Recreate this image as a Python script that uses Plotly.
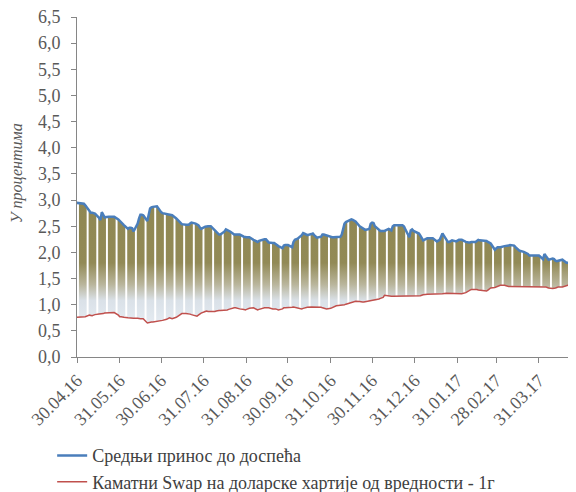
import pandas as pd
import plotly.graph_objects as go

# ---------------- data ----------------
start_date = "2016-04-29"
end_date = "2017-04-28"
dates = pd.bdate_range(start_date, end_date)  # business days

# Средњи принос до доспећа (%), one row per week (Mon..Fri)
blue = [2.95,
    2.94, 2.95, 2.94, 2.93, 2.90,
    2.78, 2.76, 2.76, 2.75, 2.74,
    2.66, 2.62, 2.77, 2.70, 2.67,
    2.68, 2.68, 2.68, 2.67, 2.68,
    2.63, 2.60, 2.57, 2.55, 2.52,
    2.45, 2.47, 2.47, 2.46, 2.40,
    2.55, 2.65, 2.72, 2.72, 2.71,
    2.60, 2.70, 2.84, 2.86, 2.87,
    2.88, 2.84, 2.79, 2.77, 2.75,
    2.73, 2.72, 2.71, 2.71, 2.71,
    2.65, 2.62, 2.58, 2.56, 2.54,
    2.53, 2.53, 2.53, 2.55, 2.57,
    2.55, 2.54, 2.52, 2.48, 2.45,
    2.49, 2.50, 2.50, 2.50, 2.50,
    2.42, 2.39, 2.36, 2.34, 2.34,
    2.40, 2.44, 2.43, 2.42, 2.40,
    2.34, 2.34, 2.34, 2.34, 2.34,
    2.30, 2.29, 2.29, 2.29, 2.29,
    2.24, 2.23, 2.21, 2.20, 2.22,
    2.25, 2.25, 2.25, 2.22, 2.19,
    2.18, 2.18, 2.16, 2.14, 2.12,
    2.08, 2.13, 2.14, 2.14, 2.14,
    2.10, 2.20, 2.24, 2.25, 2.26,
    2.33, 2.37, 2.36, 2.34, 2.33,
    2.35, 2.36, 2.33, 2.30, 2.28,
    2.30, 2.34, 2.34, 2.33, 2.32,
    2.30, 2.29, 2.29, 2.29, 2.29,
    2.30, 2.34, 2.45, 2.55, 2.58,
    2.63, 2.63, 2.62, 2.61, 2.59,
    2.50, 2.48, 2.46, 2.45, 2.43,
    2.45, 2.55, 2.57, 2.56, 2.50,
    2.43, 2.41, 2.41, 2.41, 2.41,
    2.45, 2.44, 2.42, 2.50, 2.52,
    2.52, 2.52, 2.52, 2.52, 2.50,
    2.36, 2.29, 2.42, 2.44, 2.41,
    2.38, 2.36, 2.32, 2.27, 2.23,
    2.27, 2.27, 2.27, 2.27, 2.27,
    2.21, 2.22, 2.24, 2.30, 2.36,
    2.24, 2.20, 2.20, 2.22, 2.23,
    2.21, 2.23, 2.24, 2.24, 2.24,
    2.20, 2.19, 2.19, 2.19, 2.20,
    2.20, 2.23, 2.24, 2.23, 2.23,
    2.23, 2.22, 2.20, 2.19, 2.17,
    2.05, 2.08, 2.10, 2.10, 2.10,
    2.12, 2.12, 2.12, 2.13, 2.14,
    2.13, 2.10, 2.08, 2.05, 2.03,
    2.01, 2.00, 1.99, 1.97, 1.94,
    1.94, 1.94, 1.94, 1.94, 1.94,
    1.87, 1.97, 1.93, 1.88, 1.86,
    1.88, 1.87, 1.84, 1.83, 1.84,
    1.86, 1.84, 1.82, 1.80, 1.80,
    1.81, 1.81, 1.81, 1.80, 1.80,
]

# Каматни Swap на доларске хартије од вредности - 1г (%)
red = [0.76,
    0.76, 0.77, 0.77, 0.77, 0.77,
    0.80, 0.79, 0.79, 0.80, 0.81,
    0.82, 0.82, 0.82, 0.83, 0.84,
    0.85, 0.85, 0.85, 0.85, 0.85,
    0.80, 0.77, 0.77, 0.77, 0.76,
    0.75, 0.745, 0.745, 0.745, 0.74,
    0.74, 0.73, 0.73, 0.73, 0.73,
    0.65, 0.66, 0.67, 0.67, 0.67,
    0.68, 0.69, 0.70, 0.70, 0.70,
    0.72, 0.74, 0.75, 0.74, 0.73,
    0.76, 0.78, 0.80, 0.82, 0.83,
    0.83, 0.83, 0.83, 0.82, 0.81,
    0.79, 0.78, 0.80, 0.82, 0.84,
    0.87, 0.88, 0.87, 0.87, 0.86,
    0.87, 0.88, 0.89, 0.89, 0.89,
    0.89, 0.89, 0.90, 0.91, 0.92,
    0.94, 0.94, 0.93, 0.93, 0.92,
    0.91, 0.90, 0.91, 0.92, 0.93,
    0.94, 0.93, 0.92, 0.90, 0.91,
    0.94, 0.94, 0.94, 0.94, 0.94,
    0.92, 0.925, 0.92, 0.91, 0.90,
    0.92, 0.94, 0.94, 0.94, 0.94,
    0.95, 0.955, 0.95, 0.94, 0.93,
    0.92, 0.93, 0.94, 0.94, 0.95,
    0.955, 0.955, 0.955, 0.955, 0.955,
    0.95, 0.94, 0.93, 0.93, 0.92,
    0.93, 0.94, 0.95, 0.97, 0.98,
    0.99, 0.99, 1.00, 1.00, 1.01,
    1.03, 1.04, 1.05, 1.06, 1.065,
    1.06, 1.05, 1.05, 1.05, 1.055,
    1.065, 1.07, 1.08, 1.085, 1.085,
    1.11, 1.12, 1.13, 1.14, 1.18,
    1.16, 1.16, 1.16, 1.16, 1.16,
    1.16, 1.16, 1.16, 1.16, 1.16,
    1.16, 1.16, 1.16, 1.16, 1.16,
    1.16, 1.16, 1.17, 1.18, 1.19,
    1.20, 1.20, 1.21, 1.21, 1.21,
    1.21, 1.21, 1.21, 1.21, 1.21,
    1.22, 1.22, 1.22, 1.22, 1.22,
    1.21, 1.21, 1.21, 1.21, 1.21,
    1.23, 1.25, 1.275, 1.28, 1.29,
    1.30, 1.29, 1.28, 1.275, 1.27,
    1.26, 1.26, 1.28, 1.30, 1.32,
    1.33, 1.34, 1.35, 1.36, 1.37,
    1.37, 1.36, 1.35, 1.35, 1.35,
    1.35, 1.35, 1.35, 1.34, 1.34,
    1.34, 1.34, 1.35, 1.35, 1.35,
    1.35, 1.34, 1.34, 1.34, 1.34,
    1.35, 1.35, 1.34, 1.33, 1.32,
    1.31, 1.31, 1.32, 1.33, 1.34,
    1.34, 1.35, 1.35, 1.36, 1.37,
    1.38, 1.38, 1.37, 1.37, 1.37,
]

tick_dates = ["2016-04-30", "2016-05-31", "2016-06-30", "2016-07-31", "2016-08-31",
              "2016-09-30", "2016-10-31", "2016-11-30", "2016-12-31", "2017-01-31",
              "2017-02-28", "2017-03-31"]
tick_labels = ["30.04.16", "31.05.16", "30.06.16", "31.07.16", "31.08.16", "30.09.16",
               "31.10.16", "30.11.16", "31.12.16", "31.01.17", "28.02.17", "31.03.17"]

name_blue = "Средњи принос до доспећа"
name_red = "Каматни Swap на доларске хартије од вредности - 1г"
y_title = "У процентима"

# ---------------- build weekly band polygons ----------------
segments = []
seg = [0]
for i in range(1, len(dates)):
    if (dates[i] - dates[i - 1]).days > 1:
        segments.append(seg)
        seg = [i]
    else:
        seg.append(i)
segments.append(seg)

lead = pd.Timedelta(hours=14)
trail = pd.Timedelta(hours=24)
bx, by = [], []
for s in segments:
    d = [dates[i] for i in s]
    left, right = d[0] - lead, d[-1] + trail
    bx += [left] + d + [right, right] + d[::-1] + [left, None]
    by += ([blue[s[0]]] + [blue[i] for i in s] + [blue[s[-1]], red[s[-1]]]
           + [red[i] for i in s[::-1]] + [red[s[0]], None])

FONT = "'Liberation Serif', 'Times New Roman', 'DejaVu Serif', serif"
TXT = "#595959"

fig = go.Figure()
fig.add_trace(go.Scatter(
    x=bx, y=by, mode="none", fill="toself", showlegend=False, hoverinfo="skip",
    fillgradient=dict(type="vertical", start=0.6, stop=3.0,
                      colorscale=[[0, "#e6ecf2"], [0.2, "#dae1e8"], [0.33, "#b9b59b"],
                                  [0.5, "#928a56"], [1, "#8f8753"]]),
))
fig.add_trace(go.Scatter(x=dates, y=blue, mode="lines", name=name_blue,
                         line=dict(color="#4a7ebb", width=2.5)))
fig.add_trace(go.Scatter(x=dates, y=red, mode="lines", name=name_red,
                         line=dict(color="#c0504d", width=1.5)))

axis_col = "#868686"
fig.update_layout(
    width=576, height=492,
    margin=dict(l=69, r=0, t=9, b=143, autoexpand=False),
    plot_bgcolor="white", paper_bgcolor="white",
    separators=",.",
    font=dict(family=FONT, size=18, color=TXT),
    showlegend=True,
    legend=dict(x=-0.049, xanchor="left", y=-0.236, yanchor="top",
                font=dict(family=FONT, size=18, color="#404040"),
                bgcolor="rgba(0,0,0,0)", tracegroupgap=0),
    xaxis=dict(type="date", range=["2016-04-30", "2017-05-02 16:00"],
               tickmode="array", tickvals=tick_dates, ticktext=tick_labels,
               tickangle=-45, showline=True, linecolor=axis_col, linewidth=1,
               ticks="outside", ticklen=5, tickcolor=axis_col, showgrid=False,
               zeroline=False, automargin=False, ticklabeloverflow="allow",
               tickfont=dict(family=FONT, size=18, color=TXT)),
    yaxis=dict(range=[0, 6.5], dtick=0.5, tick0=0, tickformat=".1f",
               showline=True, linecolor=axis_col, linewidth=1,
               ticks="outside", ticklen=5, tickcolor=axis_col, showgrid=False,
               zeroline=False, automargin=False, ticklabeloverflow="allow",
               ticklabelstandoff=7,
               tickfont=dict(family=FONT, size=18, color=TXT)),
    annotations=[dict(text=y_title, textangle=-90, xref="paper", yref="paper",
                      x=-0.118, y=0.541, xanchor="center", yanchor="middle",
                      showarrow=False,
                      font=dict(family=FONT, size=16, style="italic", color=TXT))],
)

fig.write_html("out.html")
